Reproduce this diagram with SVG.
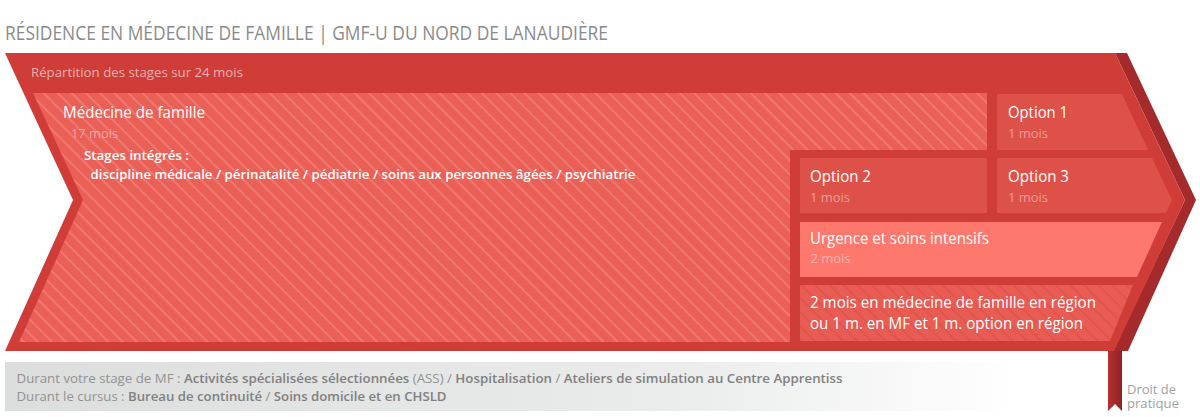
<svg xmlns="http://www.w3.org/2000/svg" width="1200" height="417" viewBox="0 0 1200 417">
  <style>
    text { font-family: "Open Sans", "Liberation Sans", sans-serif; }
    .title { font-size: 19.5px; fill: #8a8a8a; }
    .sub { font-size: 13.5px; fill: #ffffff; fill-opacity: 0.6; }
    .lbl { font-size: 16.5px; fill: #ffffff; }
    .lbl2 { font-size: 16px; fill: #ffffff; }
    .dur { font-size: 13.5px; fill: #ffffff; fill-opacity: 0.45; }
    .bold { font-size: 13px; font-weight: 600; fill: #ffffff; }
    .foot { font-size: 13px; fill: #929292; }
    .foot .b { font-weight: 600; fill: #808080; }
    .droit { font-size: 12.5px; fill: #a2a2a2; }
    .opt { fill: #de5149; }
  </style>
  <defs>
    <pattern id="hatch" width="10" height="10" patternUnits="userSpaceOnUse" patternTransform="rotate(-45)">
      <rect width="10" height="10" fill="#ea5f56"/>
      <line x1="5" y1="0" x2="5" y2="10" stroke="#f4918a" stroke-width="1"/>
    </pattern>
    <pattern id="hatchDark" width="10" height="10" patternUnits="userSpaceOnUse" patternTransform="rotate(-45)">
      <rect width="10" height="10" fill="#e85c53"/>
      <line x1="5" y1="0" x2="5" y2="10" stroke="#d84d46" stroke-width="1"/>
    </pattern>
    <linearGradient id="footGrad" x1="5" y1="0" x2="1105" y2="0" gradientUnits="userSpaceOnUse">
      <stop offset="0" stop-color="#dcdddd"/>
      <stop offset="0.6" stop-color="#eaebeb"/>
      <stop offset="0.92" stop-color="#ffffff"/>
    </linearGradient>
    <linearGradient id="ribbonGrad" x1="0" y1="0" x2="1" y2="0">
      <stop offset="0" stop-color="#b5302f"/>
      <stop offset="1" stop-color="#8f2226"/>
    </linearGradient>
  </defs>

  <text class="title" x="5" y="40" textLength="603" lengthAdjust="spacingAndGlyphs">RÉSIDENCE EN MÉDECINE DE FAMILLE | GMF-U DU NORD DE LANAUDIÈRE</text>

  <g id="ribbon">
    <polygon points="1108,349 1122,349 1122,411 1115,404 1108,411" fill="url(#ribbonGrad)"/>
  </g>

  <g id="frame">
    <polygon points="1115,53 1127,53 1196,200 1128,351 1113,351 1185,200" fill="#a52a2b"/>
    <polygon points="5,53 1115,53 1185,200 1114,351 5,351 73,200" fill="#d03c37"/>
    <text class="sub" x="31" y="77" textLength="212" lengthAdjust="spacingAndGlyphs">Répartition des stages sur 24 mois</text>
  </g>

  <g id="medecine-famille">
    <polygon points="33,93 987,93 987,150 790,150 790,342 19,342 83,200" fill="url(#hatch)"/>
    <text class="lbl" x="63" y="118" textLength="142" lengthAdjust="spacingAndGlyphs">Médecine de famille</text>
    <text class="dur" x="71" y="138" textLength="47" lengthAdjust="spacingAndGlyphs">17 mois</text>
    <text class="bold" x="84" y="159.5" textLength="105" lengthAdjust="spacingAndGlyphs">Stages intégrés :</text>
    <text class="bold" x="90.5" y="178.5" textLength="545" lengthAdjust="spacingAndGlyphs">discipline médicale / périnatalité / pédiatrie / soins aux personnes âgées / psychiatrie</text>
  </g>

  <g id="option1">
    <polygon class="opt" points="997,94 1122,94 1148,150 997,150"/>
    <text class="lbl" x="1008" y="118" textLength="60" lengthAdjust="spacingAndGlyphs">Option 1</text>
    <text class="dur" x="1008" y="138" textLength="40" lengthAdjust="spacingAndGlyphs">1 mois</text>
  </g>

  <g id="option2">
    <polygon class="opt" points="800,158 987,158 987,213 800,213"/>
    <text class="lbl" x="810" y="182" textLength="61" lengthAdjust="spacingAndGlyphs">Option 2</text>
    <text class="dur" x="810" y="201.5" textLength="40" lengthAdjust="spacingAndGlyphs">1 mois</text>
  </g>

  <g id="option3">
    <polygon class="opt" points="997,158 1152,158 1172,200 1166,213 997,213"/>
    <text class="lbl" x="1008" y="182" textLength="61" lengthAdjust="spacingAndGlyphs">Option 3</text>
    <text class="dur" x="1008" y="201.5" textLength="40" lengthAdjust="spacingAndGlyphs">1 mois</text>
  </g>

  <g id="urgence">
    <polygon points="800,222 1162,222 1137,277 800,277" fill="#ff786d"/>
    <text class="lbl" x="810" y="244" textLength="179" lengthAdjust="spacingAndGlyphs">Urgence et soins intensifs</text>
    <text class="dur" x="810.5" y="263" textLength="40" lengthAdjust="spacingAndGlyphs">2 mois</text>
  </g>

  <g id="region">
    <polygon points="800,285 1133,285 1110,341 800,341" fill="url(#hatchDark)"/>
    <text class="lbl2" x="810" y="308" textLength="286" lengthAdjust="spacingAndGlyphs">2 mois en médecine de famille en région</text>
    <text class="lbl2" x="810" y="328.5" textLength="273" lengthAdjust="spacingAndGlyphs">ou 1 m. en MF et 1 m. option en région</text>
  </g>

  <g id="footer">
    <rect x="5" y="362" width="1100" height="49" fill="url(#footGrad)"/>
    <text class="foot" x="16.5" y="382.5" textLength="826" lengthAdjust="spacingAndGlyphs">Durant votre stage de MF : <tspan class="b">Activités spécialisées sélectionnées</tspan> (ASS) / <tspan class="b">Hospitalisation</tspan> / <tspan class="b">Ateliers de simulation au Centre Apprentiss</tspan></text>
    <text class="foot" x="16.5" y="400.5" textLength="430" lengthAdjust="spacingAndGlyphs">Durant le cursus : <tspan class="b">Bureau de continuité</tspan> / <tspan class="b">Soins domicile et en CHSLD</tspan></text>
  </g>

  <g id="droit-de-pratique">
    <text class="droit" x="1127" y="393.5" textLength="49" lengthAdjust="spacingAndGlyphs">Droit de</text>
    <text class="droit" x="1127" y="407.5" textLength="52" lengthAdjust="spacingAndGlyphs">pratique</text>
  </g>

  <g id="connectors"/>
</svg>
